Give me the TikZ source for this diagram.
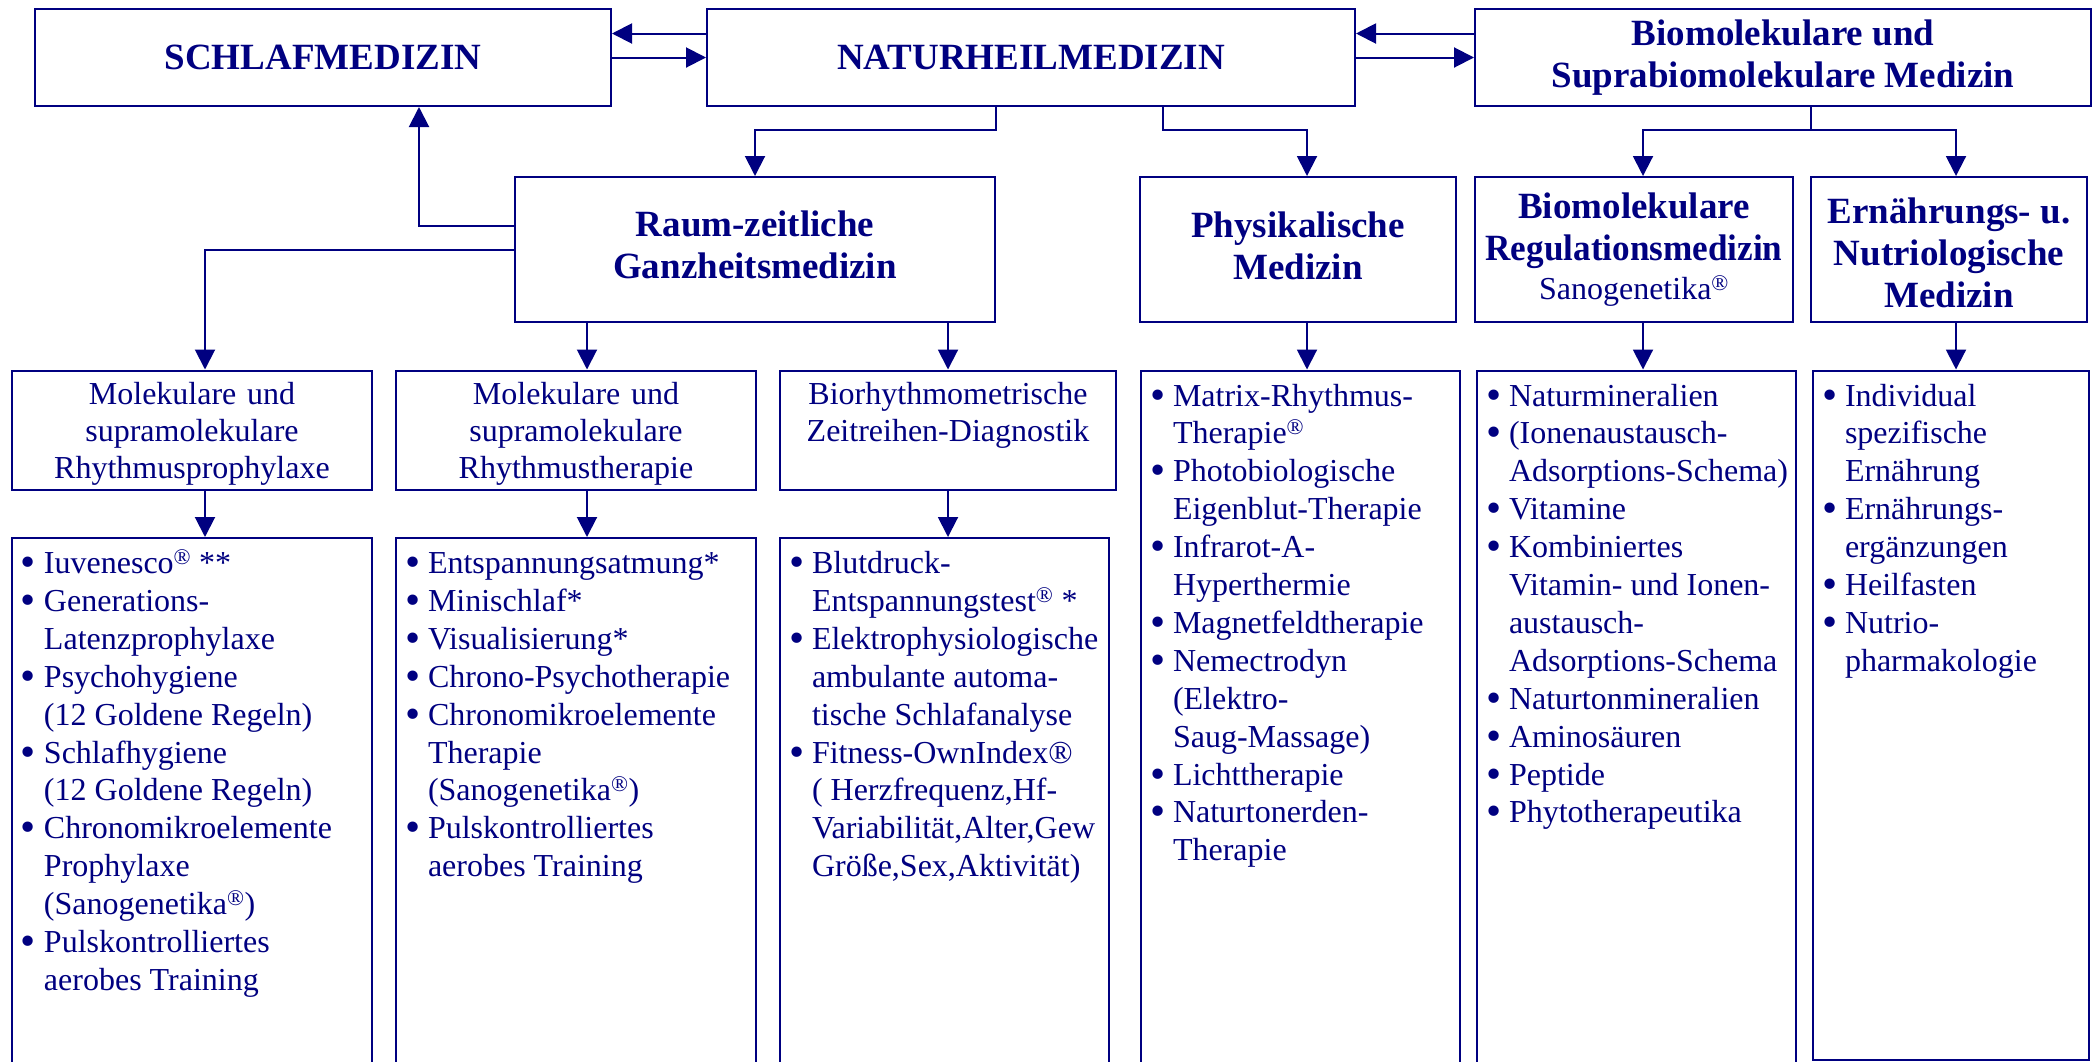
\documentclass[tikz,border=0pt]{standalone}
\usepackage{fontspec}
\setmainfont{Liberation Serif}
\usepackage{xcolor}
\usepackage{graphicx}
\usepackage{tikz}
\definecolor{navy}{RGB}{0,0,128}
\usetikzlibrary{arrows.meta,calc}

\newcommand{\kopfschrift}{\fontsize{37}{42}\selectfont\bfseries}
\newcommand{\listschrift}{\normalfont\fontsize{32}{37.9}\selectfont\hyphenpenalty=10000}
\newcommand{\regz}{\textsuperscript{\textregistered}}
\newcommand{\pkt}[1]{\noindent\hangindent=32pt\hangafter=1\hspace*{9pt}\makebox[23pt][l]{\raisebox{-3pt}{\scalebox{1.35}{\textbullet}}}#1\par}

\begin{document}
\begin{tikzpicture}[x=1pt,y=-1pt,
    kopf/.style={draw=navy, text=navy, line width=2pt, inner sep=0pt, align=center, font=\kopfschrift},
    stufe/.style={draw=navy, text=navy, line width=2pt, inner sep=0pt, anchor=north west, align=center,
        font=\normalfont\fontsize{32}{37}\selectfont, text height=34pt, text depth=85.5pt},
    liste/.style={draw=navy, text=navy, line width=2pt, inner sep=0pt, anchor=north west, align=flush left,
        font=\listschrift, text height=35.5pt},
    pfeil/.style={draw=navy, line width=2pt, -{Triangle[length=20pt,width=20pt]}}]
    \useasboundingbox (0,0) rectangle (2098,1061);
    \clip (0,0) rectangle (2098,1061);

    % Oberste Reihe
    \node[kopf, minimum width=576pt, minimum height=97pt] (schlaf) at (323,57.5) {SCHLAFMEDIZIN};
    \node[kopf, minimum width=648pt, minimum height=97pt] (natur) at (1031,57.5) {NATURHEILMEDIZIN};
    \node[kopf, minimum width=616pt, minimum height=97pt] (bio) at (1783,57.5) {Biomolekulare und\\Suprabiomolekulare Medizin};

    % Zweite Reihe
    \node[kopf, minimum width=480pt, minimum height=145pt, text depth=10pt] (raum) at (755,249.5) {Raum-zeitliche\\Ganzheitsmedizin};
    \node[kopf, minimum width=316pt, minimum height=145pt, text depth=8pt] (phys) at (1298,249.5) {Physikalische\\Medizin};
    \node[kopf, minimum width=318pt, minimum height=145pt] (bioreg) at (1634,249.5)
        {Biomolekulare\\\scalebox{0.95}[1]{Regulationsmedizin}\\[-3pt]{\listschrift Sanogenetika\regz}};
    \node[kopf, minimum width=276pt, minimum height=145pt, text height=117pt] (ern) at (1949,249.5) {Ernährungs- u.\\Nutriologische\\Medizin};

    % Dritte Reihe
    \node[stufe, text width=360pt] (a1) at (11,369.5) {Molekulare und\\supramolekulare\\Rhythmusprophylaxe};
    \node[stufe, text width=360pt] (a2) at (395,369.5) {Molekulare und\\supramolekulare\\Rhythmustherapie};
    \node[stufe, text width=336pt] (a3) at (779,369.5) {Biorhythmometrische\\Zeitreihen-Diagnostik};

    % Listen
    \node[liste, text width=360pt, text depth=502.5pt] (b1) at (11,537) {%
        \pkt{Iuvenesco\regz{} **}
        \pkt{Generations-\newline Latenzprophylaxe}
        \pkt{Psychohygiene\newline (12 Goldene Regeln)}
        \pkt{Schlafhygiene\newline (12 Goldene Regeln)}
        \pkt{Chronomikroelemente\newline Prophylaxe\newline (Sanogenetika\regz)}
        \pkt{Pulskontrolliertes\newline aerobes Training}};
    \node[liste, text width=360pt, text depth=502.5pt] (b2) at (395,537) {%
        \pkt{Entspannungsatmung*}
        \pkt{Minischlaf*}
        \pkt{Visualisierung*}
        \pkt{Chrono-Psychotherapie}
        \pkt{Chronomikroelemente\newline Therapie\newline (Sanogenetika\regz)}
        \pkt{Pulskontrolliertes\newline aerobes Training}};
    \node[liste, text width=329pt, text depth=502.5pt] (b3) at (779,537) {%
        \pkt{Blutdruck-\newline Entspannungstest\regz{} *}
        \pkt{Elektrophysiologische\newline ambulante automa-\newline tische Schlafanalyse}
        \pkt{Fitness-OwnIndex®\newline ( Herzfrequenz,Hf-\newline Variabilität,Alter,Gew\newline Größe,Sex,Aktivität)}};
    \node[liste, text width=319pt, text depth=670pt] (c1) at (1140,369.5) {%
        \pkt{Matrix-Rhythmus-\newline Therapie\regz}
        \pkt{Photobiologische\newline Eigenblut-Therapie}
        \pkt{Infrarot-A-\newline Hyperthermie}
        \pkt{Magnetfeldtherapie}
        \pkt{Nemectrodyn\newline (Elektro-\newline Saug-Massage)}
        \pkt{Lichttherapie}
        \pkt{Naturtonerden-\newline Therapie}};
    \node[liste, text width=319pt, text depth=670pt] (c2) at (1476,369.5) {%
        \pkt{Naturmineralien}
        \pkt{(Ionenaustausch-\newline Adsorptions-Schema)}
        \pkt{Vitamine}
        \pkt{Kombiniertes\newline Vitamin- und Ionen-\newline austausch-\newline Adsorptions-Schema}
        \pkt{Naturtonmineralien}
        \pkt{Aminosäuren}
        \pkt{Peptide}
        \pkt{Phytotherapeutika}};
    \node[liste, text width=276pt, text depth=654pt] (c3) at (1812,369.5) {%
        \pkt{Individual\newline spezifische\newline Ernährung}
        \pkt{Ernährungs-\newline ergänzungen}
        \pkt{Heilfasten}
        \pkt{Nutrio-\newline pharmakologie}};

    % Pfeile oben
    \foreach \l/\r in {schlaf/natur, natur/bio} {
        \draw[pfeil] ([yshift=24pt]\r.west) -- ([yshift=24pt]\l.east);
        \draw[pfeil] (\l.east) -- (\r.west);
    }
    \draw[pfeil] (natur.south -| raum.east) -- ++(0,23) -| (raum.north);
    \draw[pfeil] ([xshift=132pt]natur.south) -- ++(0,23) -| ([xshift=9pt]phys.north);
    \draw[pfeil] ([xshift=28pt]bio.south) -- ++(0,23) -| ([xshift=9pt]bioreg.north);
    \draw[pfeil] ([xshift=28pt]bio.south) -- ++(0,23) -| ([xshift=7pt]ern.north);

    % Pfeile von der Ganzheitsmedizin
    \draw[pfeil] ([yshift=23.5pt]raum.west) -| ([xshift=96pt]schlaf.south);
    \draw[pfeil] (raum.west) -| ([xshift=13pt]a1.north);
    \draw[pfeil] ([xshift=11pt]a2.north |- raum.south) -- ([xshift=11pt]a2.north);
    \draw[pfeil] (a3.north |- raum.south) -- (a3.north);

    % Pfeile zu den Listen
    \foreach \s/\z/\d in {a1/b1/13, a2/b2/11, a3/b3/0, phys/c1/9, bioreg/c2/9, ern/c3/7} {
        \draw[pfeil] ([xshift=\d pt]\s.south) -- ([xshift=\d pt]\s.south |- \z.north);
    }
\end{tikzpicture}
\end{document}
